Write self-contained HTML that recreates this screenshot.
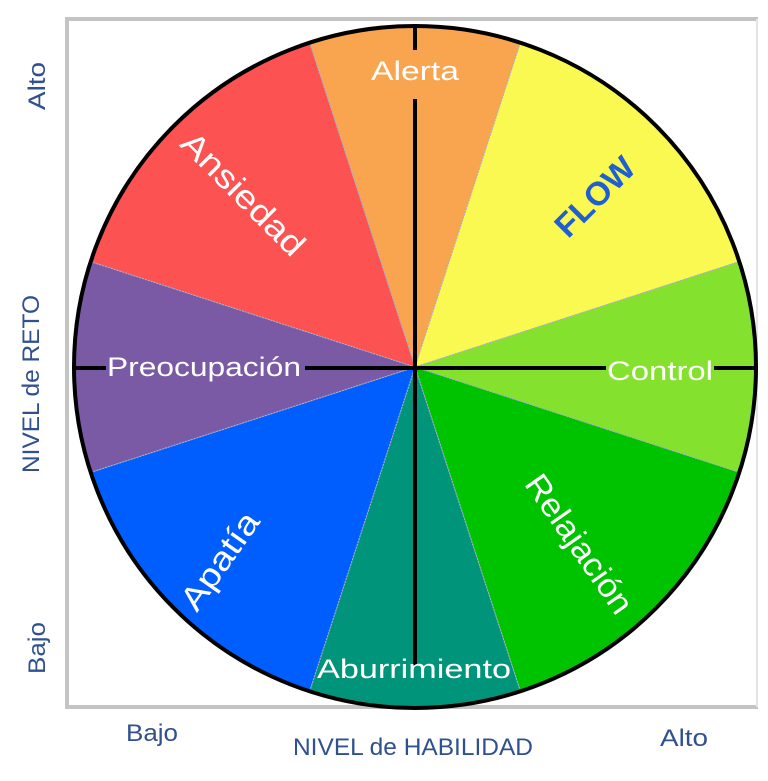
<!DOCTYPE html>
<html><head><meta charset="utf-8"><style>
html,body{margin:0;padding:0;background:#fff;width:768px;height:781px;overflow:hidden}
svg{display:block}
text{font-family:"Liberation Sans",sans-serif}
</style></head><body>
<svg width="768" height="781" viewBox="0 0 768 781" xmlns="http://www.w3.org/2000/svg">
<g stroke="#c4c4c4" stroke-width="4" fill="none">
<line x1="65" y1="19" x2="758" y2="19"/>
<line x1="67" y1="17" x2="67" y2="709"/>
<line x1="65" y1="707" x2="758" y2="707"/>
</g>
<line x1="757" y1="19" x2="757" y2="707" stroke="#e4e4e4" stroke-width="2"/>
<g stroke="#a8b0c8" stroke-width="1" stroke-dasharray="2,1">
<path d="M415 367 L309.3 41.7 A342 342 0 0 1 520.7 41.7 Z" fill="#F9A44F"/>
<path d="M415 367 L520.7 41.7 A342 342 0 0 1 740.3 261.3 Z" fill="#F9F952"/>
<path d="M415 367 L740.3 261.3 A342 342 0 0 1 740.3 472.7 Z" fill="#84E12D"/>
<path d="M415 367 L740.3 472.7 A342 342 0 0 1 520.7 692.3 Z" fill="#00C300"/>
<path d="M415 367 L520.7 692.3 A342 342 0 0 1 309.3 692.3 Z" fill="#00947A"/>
<path d="M415 367 L309.3 692.3 A342 342 0 0 1 89.7 472.7 Z" fill="#005EFF"/>
<path d="M415 367 L89.7 472.7 A342 342 0 0 1 89.7 261.3 Z" fill="#7A59A5"/>
<path d="M415 367 L89.7 261.3 A342 342 0 0 1 309.3 41.7 Z" fill="#FC5252"/>
</g>
<circle cx="415" cy="367" r="341" fill="none" stroke="#000" stroke-width="4"/>
<g stroke="#000" stroke-width="4">
<line x1="415" y1="24" x2="415" y2="50"/>
<line x1="415" y1="99" x2="415" y2="665"/>
<line x1="73" y1="368" x2="106" y2="368"/>
<line x1="305" y1="368" x2="606" y2="368"/>
<line x1="714" y1="368" x2="756" y2="368"/>
</g>
<g fill="#fff" font-size="27" text-anchor="middle">
<text x="415" y="80" textLength="88" lengthAdjust="spacingAndGlyphs">Alerta</text>
<text x="660" y="380" textLength="106" lengthAdjust="spacingAndGlyphs">Control</text>
<text x="204" y="376" textLength="194" lengthAdjust="spacingAndGlyphs">Preocupación</text>
<text x="414" y="678" textLength="194" lengthAdjust="spacingAndGlyphs">Aburrimiento</text>
<text x="0" y="0" font-size="33" transform="translate(243,194) rotate(45)" dy="11" textLength="160" lengthAdjust="spacingAndGlyphs">Ansiedad</text>
<text x="0" y="0" font-size="33" transform="translate(220,561) rotate(-55)" dy="11" textLength="112" lengthAdjust="spacingAndGlyphs">Apatía</text>
<text x="0" y="0" font-size="33" transform="translate(579,544) rotate(55)" dy="11" textLength="162" lengthAdjust="spacingAndGlyphs">Relajación</text>
</g>
<text x="0" y="0" font-size="33" font-weight="bold" fill="#1F5FD2" text-anchor="middle" transform="translate(595,197) rotate(-45)" dy="11" textLength="98" lengthAdjust="spacingAndGlyphs">FLOW</text>
<g fill="#30508F" font-size="24" text-anchor="middle">
<text x="152" y="741" textLength="52" lengthAdjust="spacingAndGlyphs">Bajo</text>
<text x="413" y="755" textLength="240" lengthAdjust="spacingAndGlyphs">NIVEL de HABILIDAD</text>
<text x="684" y="746" textLength="48" lengthAdjust="spacingAndGlyphs">Alto</text>
<text transform="translate(45,86) rotate(-90)" textLength="48" lengthAdjust="spacingAndGlyphs">Alto</text>
<text transform="translate(45,648) rotate(-90)" textLength="52" lengthAdjust="spacingAndGlyphs">Bajo</text>
<text transform="translate(39,384) rotate(-90)" textLength="178" lengthAdjust="spacingAndGlyphs">NIVEL de  RETO</text>
</g>
</svg>
</body></html>
